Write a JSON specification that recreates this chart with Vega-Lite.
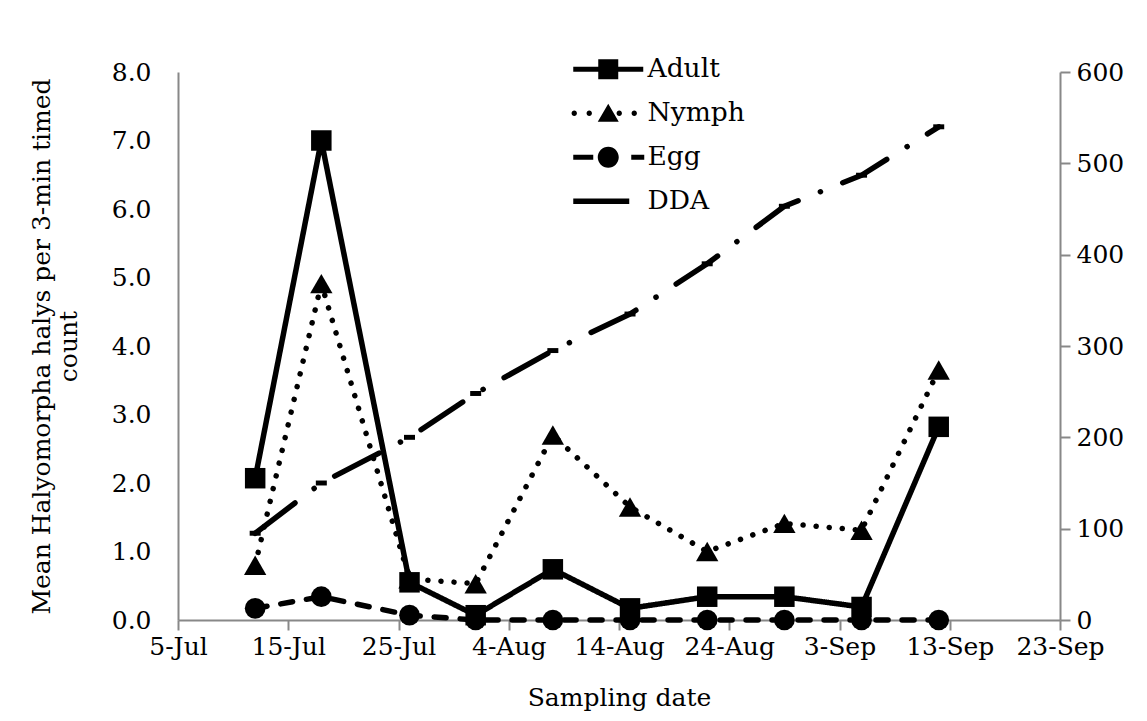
{
  "$schema": "https://vega.github.io/schema/vega-lite/v6.json",
  "autosize": {"type": "none"},
  "width": 882,
  "height": 548,
  "padding": {"left": 178, "top": 72, "right": 87, "bottom": 101},
  "background": "white",
  "data": {"values": [
    {"date": "2013-07-12", "series": "Adult", "value": 2.07},
    {"date": "2013-07-18", "series": "Adult", "value": 7.0},
    {"date": "2013-07-26", "series": "Adult", "value": 0.55},
    {"date": "2013-08-01", "series": "Adult", "value": 0.07},
    {"date": "2013-08-08", "series": "Adult", "value": 0.74},
    {"date": "2013-08-15", "series": "Adult", "value": 0.17},
    {"date": "2013-08-22", "series": "Adult", "value": 0.34},
    {"date": "2013-08-29", "series": "Adult", "value": 0.34},
    {"date": "2013-09-05", "series": "Adult", "value": 0.19},
    {"date": "2013-09-12", "series": "Adult", "value": 2.82},
    {"date": "2013-07-12", "series": "Nymph", "value": 0.8},
    {"date": "2013-07-18", "series": "Nymph", "value": 4.91},
    {"date": "2013-07-26", "series": "Nymph", "value": 0.6},
    {"date": "2013-08-01", "series": "Nymph", "value": 0.53},
    {"date": "2013-08-08", "series": "Nymph", "value": 2.7},
    {"date": "2013-08-15", "series": "Nymph", "value": 1.65},
    {"date": "2013-08-22", "series": "Nymph", "value": 1.0},
    {"date": "2013-08-29", "series": "Nymph", "value": 1.41},
    {"date": "2013-09-05", "series": "Nymph", "value": 1.31},
    {"date": "2013-09-12", "series": "Nymph", "value": 3.65},
    {"date": "2013-07-12", "series": "Egg", "value": 0.17},
    {"date": "2013-07-18", "series": "Egg", "value": 0.34},
    {"date": "2013-07-26", "series": "Egg", "value": 0.07},
    {"date": "2013-08-01", "series": "Egg", "value": 0},
    {"date": "2013-08-08", "series": "Egg", "value": 0},
    {"date": "2013-08-15", "series": "Egg", "value": 0},
    {"date": "2013-08-22", "series": "Egg", "value": 0},
    {"date": "2013-08-29", "series": "Egg", "value": 0},
    {"date": "2013-09-05", "series": "Egg", "value": 0},
    {"date": "2013-09-12", "series": "Egg", "value": 0},
    {"date": "2013-07-12", "series": "DDA", "value": 95},
    {"date": "2013-07-18", "series": "DDA", "value": 150},
    {"date": "2013-07-26", "series": "DDA", "value": 200},
    {"date": "2013-08-01", "series": "DDA", "value": 248},
    {"date": "2013-08-08", "series": "DDA", "value": 295},
    {"date": "2013-08-15", "series": "DDA", "value": 335},
    {"date": "2013-08-22", "series": "DDA", "value": 390},
    {"date": "2013-08-29", "series": "DDA", "value": 453},
    {"date": "2013-09-05", "series": "DDA", "value": 487},
    {"date": "2013-09-12", "series": "DDA", "value": 540}
  ]},
  "encoding": {
    "x": {
      "field": "date", "type": "temporal",
      "scale": {"type": "utc", "domain": [{"year": 2013, "month": 7, "date": 5, "utc": true}, {"year": 2013, "month": 9, "date": 23, "utc": true}], "nice": false},
      "axis": {
        "title": "Sampling date",
        "format": "%-d-%b",
        "values": [
          {"year": 2013, "month": 7, "date": 5, "utc": true},
          {"year": 2013, "month": 7, "date": 15, "utc": true},
          {"year": 2013, "month": 7, "date": 25, "utc": true},
          {"year": 2013, "month": 8, "date": 4, "utc": true},
          {"year": 2013, "month": 8, "date": 14, "utc": true},
          {"year": 2013, "month": 8, "date": 24, "utc": true},
          {"year": 2013, "month": 9, "date": 3, "utc": true},
          {"year": 2013, "month": 9, "date": 13, "utc": true},
          {"year": 2013, "month": 9, "date": 23, "utc": true}
        ],
        "labelPadding": 4,
        "titlePadding": 26,
        "labelFlush": false,
        "labelOverlap": false
      }
    }
  },
  "layer": [
    {
      "transform": [{"filter": "datum.series !== 'DDA'"}],
      "encoding": {
        "y": {
          "field": "value", "type": "quantitative",
          "scale": {"domain": [0, 8], "nice": false, "zero": true},
          "axis": {
            "orient": "left",
            "title": ["Mean Halyomorpha halys per 3-min timed", "count"],
            "values": [0, 1, 2, 3, 4, 5, 6, 7, 8],
            "format": ".1f",
            "ticks": false,
            "labelPadding": 27,
            "titlePadding": 30,
            "titleLineHeight": 27
          }
        }
      },
      "layer": [
        {
          "mark": {"type": "line", "color": "black", "strokeCap": "round", "strokeJoin": "round", "strokeWidth": 5.5},
          "encoding": {
            "strokeDash": {
              "field": "series", "type": "nominal",
              "scale": {"domain": ["DDA", "Adult", "Nymph", "Egg"], "range": [[50, 24, 0.1, 24], [1, 0], [0.1, 13], [12, 14]]},
              "legend": null
            }
          }
        },
        {
          "transform": [{"filter": "datum.series === 'Adult'"}],
          "mark": {"type": "point", "filled": true, "color": "black", "opacity": 1, "shape": "square", "size": 420}
        },
        {
          "transform": [{"filter": "datum.series === 'Nymph'"}],
          "mark": {"type": "point", "filled": true, "color": "black", "opacity": 1, "shape": "triangle-up", "size": 500}
        },
        {
          "transform": [{"filter": "datum.series === 'Egg'"}],
          "mark": {"type": "point", "filled": true, "color": "black", "opacity": 1, "shape": "circle", "size": 430}
        }
      ]
    },
    {
      "transform": [{"filter": "datum.series === 'DDA'"}],
      "encoding": {
        "y": {
          "field": "value", "type": "quantitative",
          "scale": {"domain": [0, 600], "nice": false},
          "axis": {
            "orient": "right",
            "title": null,
            "values": [0, 100, 200, 300, 400, 500, 600],
            "labelPadding": 6
          }
        }
      },
      "layer": [
        {
          "mark": {"type": "line", "color": "black", "strokeCap": "round", "strokeJoin": "round", "strokeWidth": 5.5},
          "encoding": {
            "strokeDash": {"field": "series", "type": "nominal", "legend": null}
          }
        },
        {
          "mark": {"type": "point", "filled": true, "color": "black", "opacity": 1, "shape": "M-1,-0.45H1V0.45H-1Z", "size": 121}
        },
        {
          "mark": {"type": "point", "filled": true, "color": "black", "opacity": 0, "size": 1},
          "encoding": {
            "shape": {
              "field": "series", "type": "nominal",
              "scale": {
                "domain": ["Adult", "Nymph", "Egg", "DDA"],
                "range": [
                  "M-3.5,-0.25H3.5V0.25H-3.5Z M-1,-1H1V1H-1Z",
                  "M-3.67,0A0.27,0.27,0,1,0,-3.13,0A0.27,0.27,0,1,0,-3.67,0Z M-2.17,0A0.27,0.27,0,1,0,-1.63,0A0.27,0.27,0,1,0,-2.17,0Z M0.83,0A0.27,0.27,0,1,0,1.37,0A0.27,0.27,0,1,0,0.83,0Z M2.33,0A0.27,0.27,0,1,0,2.87,0A0.27,0.27,0,1,0,2.33,0Z M0,-0.95L1.05,0.85H-1.05Z",
                  "M-3.5,-0.25H-1.5V0.25H-3.5Z M-1.05,0A1.05,1.05,0,1,0,1.05,0A1.05,1.05,0,1,0,-1.05,0Z M2.3,-0.25H3.6V0.25H2.3Z",
                  "M-3.5,-0.27H2.1V0.27H-3.5Z"
                ]
              },
              "legend": {
                "title": null,
                "orient": "none",
                "legendX": 417,
                "legendY": -16,
                "direction": "vertical",
                "padding": 0,
                "symbolSize": 400,
                "symbolOpacity": 1,
                "symbolFillColor": "black",
                "symbolStrokeColor": "transparent",
                "symbolStrokeWidth": 0,
                "labelFontSize": 26.5,
                "labelColor": "black",
                "labelOffset": 26,
                "rowPadding": 17
              }
            }
          }
        }
      ]
    }
  ],
  "resolve": {"scale": {"y": "independent"}},
  "config": {
    "font": "DejaVu Serif",
    "view": {"stroke": null},
    "legend": {"labelFont": "DejaVu Serif"},
    "axis": {
      "labelFont": "DejaVu Serif",
      "labelFontSize": 25,
      "labelColor": "black",
      "titleFont": "DejaVu Serif",
      "titleFontSize": 25,
      "titleFontWeight": "normal",
      "titleColor": "black",
      "grid": false,
      "domainColor": "#888888",
      "domainWidth": 2,
      "tickColor": "#888888",
      "tickWidth": 2,
      "tickSize": 10
    }
  }
}
